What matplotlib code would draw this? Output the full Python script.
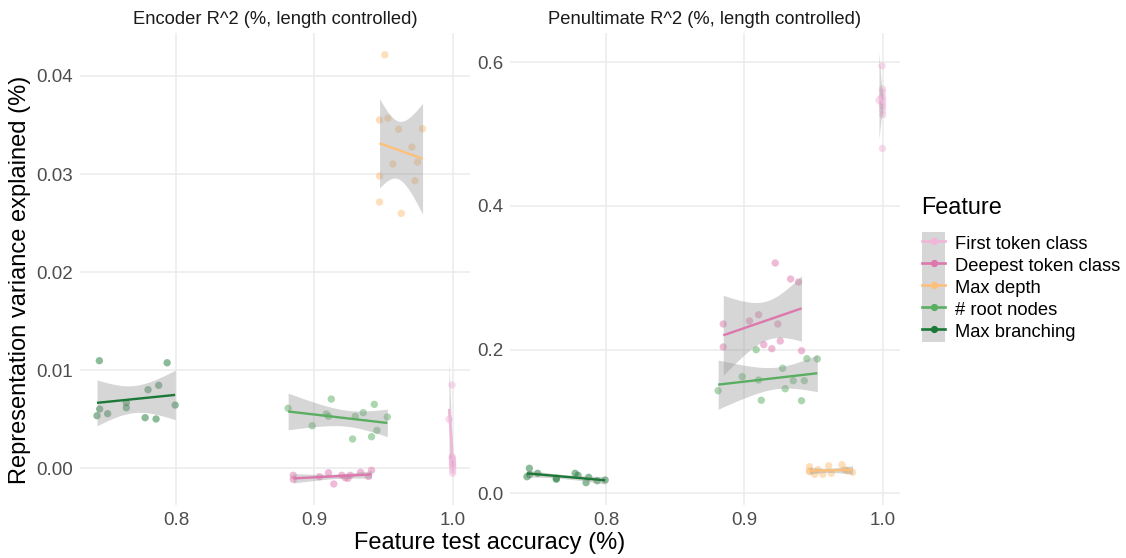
import numpy as np
import matplotlib
matplotlib.use("Agg")
import matplotlib.pyplot as plt
from matplotlib.patches import Patch
from matplotlib.lines import Line2D
from matplotlib.legend_handler import HandlerTuple

plt.rcParams['font.family'] = ['Liberation Sans', 'DejaVu Sans']

# ---------------- data ----------------
features = ["First token class", "Deepest token class", "Max depth", "# root nodes", "Max branching"]
colors = ["#F1B6DA", "#DE77AE", "#FDC07A", "#5AAE61", "#1B7837"]

panel_titles = ["Encoder R^2 (%, length controlled)", "Penultimate R^2 (%, length controlled)"]

ft_x = [0.9973, 0.9995, 0.9998, 0.9999, 1.0, 1.0, 0.9997, 0.9999, 1.0, 0.9996, 0.9998, 1.0]
ft_enc = [0.0050, 0.0085, 0.0010, 0.0007, 0.0003, -0.0005, 0.0009, 0.0005, 0.0001, 0.0012, 0.0004, -0.0002]
ft_pen = [0.547, 0.595, 0.563, 0.559, 0.545, 0.538, 0.553, 0.533, 0.527, 0.541, 0.480, 0.550]

dt_x = [0.8847, 0.8847, 0.9037, 0.9102, 0.9140, 0.9198, 0.9223, 0.9242, 0.9259, 0.9334, 0.9391, 0.9413]
dt_enc = [-0.00071, -0.00112, -0.00086, -0.00045, -0.0016, -0.00071, -0.00096, -0.00102, -0.00071, -0.00041, -0.00082, -0.0002]
dt_pen = [0.2357, 0.2037, 0.2399, 0.2486, 0.2069, 0.2013, 0.3206, 0.2357, 0.2120, 0.2983, 0.2942, 0.1985]

md_x = [0.9471, 0.9471, 0.9471, 0.9509, 0.9531, 0.9567, 0.9609, 0.9628, 0.9705, 0.9727, 0.9746, 0.9782]
md_enc = [0.03551, 0.0298, 0.02715, 0.04216, 0.03568, 0.03102, 0.03456, 0.02599, 0.03275, 0.02932, 0.03122, 0.03462]
md_pen = [0.0370, 0.0315, 0.0300, 0.0264, 0.0330, 0.0264, 0.0384, 0.0278, 0.0398, 0.0330, 0.0310, 0.0292]

rn_x = [0.8810, 0.8984, 0.9085, 0.9102, 0.9122, 0.9276, 0.9295, 0.9353, 0.9413, 0.9433, 0.9452, 0.9527]
rn_enc = [0.00612, 0.00434, 0.00554, 0.0053, 0.00706, 0.00299, 0.0053, 0.00567, 0.00322, 0.00652, 0.00387, 0.00523]
rn_pen = [0.1428, 0.1623, 0.1999, 0.1577, 0.1295, 0.1740, 0.1456, 0.1568, 0.1289, 0.1568, 0.1874, 0.1870]

mb_x = [0.7428, 0.7445, 0.7447, 0.7505, 0.7640, 0.7640, 0.7776, 0.7797, 0.7855, 0.7874, 0.7935, 0.7993]
mb_enc = [0.00536, 0.01097, 0.00604, 0.00557, 0.00669, 0.00618, 0.00516, 0.00801, 0.00503, 0.00846, 0.01076, 0.00645]
mb_pen = [0.0231, 0.0348, 0.0260, 0.0278, 0.0195, 0.0210, 0.0278, 0.0250, 0.0148, 0.0223, 0.0175, 0.0185]

x_data = [ft_x, dt_x, md_x, rn_x, mb_x]
enc_data = [ft_enc, dt_enc, md_enc, rn_enc, mb_enc]
pen_data = [ft_pen, dt_pen, md_pen, rn_pen, mb_pen]

x_ticks = [0.8, 0.9, 1.0]
x_ticklabels = ["0.8", "0.9", "1.0"]
enc_ticks = [0.00, 0.01, 0.02, 0.03, 0.04]
enc_ticklabels = ["0.00", "0.01", "0.02", "0.03", "0.04"]
pen_ticks = [0.0, 0.2, 0.4, 0.6]
pen_ticklabels = ["0.0", "0.2", "0.4", "0.6"]

T95 = {8: 2.306, 9: 2.262, 10: 2.228, 11: 2.201, 12: 2.179}

# ---------------- figure ----------------
W, H = 1126, 558
fig = plt.figure(figsize=(W / 100, H / 100), dpi=100)
ax1 = fig.add_axes([80 / W, 1 - 505 / H, 390 / W, 472 / H])
ax2 = fig.add_axes([510 / W, 1 - 505 / H, 390 / W, 472 / H])


def lm_band(x, y, n_grid=80):
    x = np.asarray(x, float)
    y = np.asarray(y, float)
    n = len(x)
    b, a = np.polyfit(x, y, 1)
    resid = y - (a + b * x)
    s = np.sqrt(np.sum(resid ** 2) / (n - 2))
    xbar = x.mean()
    sxx = np.sum((x - xbar) ** 2)
    xg = np.linspace(x.min(), x.max(), n_grid)
    yg = a + b * xg
    se = s * np.sqrt(1 / n + (xg - xbar) ** 2 / sxx)
    t = T95.get(n - 2, 2.228)
    return xg, yg, yg - t * se, yg + t * se


def draw_panel(ax, ydata, ticks, ticklabels, ylim):
    for xs, ys, c in zip(x_data, ydata, colors):
        ax.scatter(xs, ys, s=28, color=c, alpha=0.5, edgecolors='none', zorder=2)
    for xs, ys, c in zip(x_data, ydata, colors):
        xg, yg, lo, hi = lm_band(xs, ys)
        ax.fill_between(xg, lo, hi, color='#999999', alpha=0.4, linewidth=0, zorder=3)
        ax.plot(xg, yg, color=c, linewidth=1.7, zorder=4, solid_capstyle='butt')
    ax.set_xlim(0.7305, 1.0125)
    ax.set_ylim(*ylim)
    ax.set_xticks(x_ticks)
    ax.set_xticklabels(x_ticklabels)
    ax.set_yticks(ticks)
    ax.set_yticklabels(ticklabels)
    ax.grid(True, color='#EBEBEB', linewidth=1.1, zorder=0)
    ax.set_axisbelow(True)
    for sp in ax.spines.values():
        sp.set_visible(False)
    ax.tick_params(length=0, labelsize=13.5, labelcolor='#4D4D4D', pad=5)


draw_panel(ax1, enc_data, enc_ticks, enc_ticklabels, (-0.00374, 0.04438))
draw_panel(ax2, pen_data, pen_ticks, pen_ticklabels, (-0.0163, 0.6408))

fig.text(275 / W, 1 - 20 / H, panel_titles[0], ha='center', va='center', fontsize=13.2, color='#1A1A1A')
fig.text(705 / W, 1 - 20 / H, panel_titles[1], ha='center', va='center', fontsize=13.2, color='#1A1A1A')

fig.text(490 / W, 1 - 543 / H, "Feature test accuracy (%)", ha='center', va='center', fontsize=17, color='black')
fig.text(20 / W, 1 - 280 / H, "Representation variance explained (%)", ha='center', va='center',
         rotation=90, fontsize=17, color='black')

# legend
fig.text(921 / W, 1 - 208 / H, "Feature", ha='left', va='center', fontsize=16.8, color='black')
handles = [(Patch(facecolor='#D6D6D6', edgecolor='none'),
            Line2D([], [], color=c, linewidth=1.9, marker='o', markersize=4.2, alpha=1.0))
           for c in colors]
leg = fig.legend(handles, features, loc='upper left', bbox_to_anchor=(913 / W, 1 - 223 / H),
                 frameon=False, fontsize=13.2,
                 handler_map={tuple: HandlerTuple(ndivide=1, pad=0)},
                 handlelength=1.26, handleheight=1.47, labelspacing=0.0, handletextpad=0.55,
                 borderpad=0, alignment='left')

fig.savefig("out.png", dpi=100)
